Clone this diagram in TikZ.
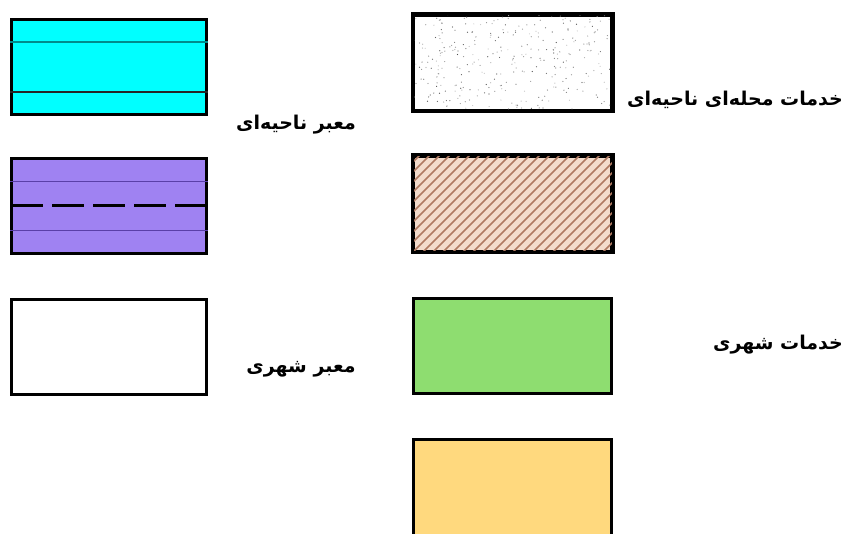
\documentclass[tikz,border=0pt]{standalone}
\usepackage{fontspec}
\TeXXeTstate=1
\newfontfamily\arabicfont[Script=Arabic]{DejaVu Sans}
\definecolor{cyanfill}{HTML}{00FFFF}
\definecolor{cyanline}{HTML}{008C8C}
\definecolor{purplefill}{HTML}{9F82F2}
\definecolor{purpleline}{HTML}{5A3FA8}
\definecolor{peach}{HTML}{F4DCCC}
\definecolor{hatchline}{HTML}{B07A62}
\definecolor{greenfill}{HTML}{8EDD70}
\definecolor{yellowfill}{HTML}{FFD97E}
\tikzset{
  legbox/.style={draw=black, line width=3pt, minimum width=195pt, minimum height=95pt, inner sep=0pt, anchor=north west},
  lbl/.style={font=\arabicfont\bfseries\fontsize{19}{22}\selectfont, inner sep=0pt}
}
\begin{document}
\begin{tikzpicture}[x=1pt,y=-1pt]
\useasboundingbox (0,0) rectangle (850,534);
\clip (0,0) rectangle (850,534);
% left column
\node[legbox, fill=cyanfill] (b1) at (10,18) {};
\draw[cyanline, line width=1.6pt] ([yshift=-24pt]b1.north west) -- ([yshift=-24pt]b1.north east);
\draw[black!85, line width=1.6pt] ([yshift=24pt]b1.south west) -- ([yshift=24pt]b1.south east);
\node[legbox, fill=purplefill] (b2) at (10,157) {};
\draw[purpleline, line width=1pt] ([yshift=-25pt]b2.north west) -- ([yshift=-25pt]b2.north east);
\draw[purpleline, line width=1pt] ([yshift=24pt]b2.south west) -- ([yshift=24pt]b2.south east);
\draw[black, line width=3pt, dash pattern=on 32pt off 9pt] ([xshift=1pt]b2.west) -- (b2.east);
\node[legbox, fill=white] (b3) at (10,298) {};
% right column
\node[legbox, minimum width=198pt, fill=white] (r1) at (412,14) {};
\begin{scope}
\clip (r1.south west) rectangle (r1.north east);
\pgfmathsetseed{7}
\foreach \i in {1,...,320}{
  \pgfmathsetmacro{\px}{412+198*rnd}
  \pgfmathsetmacro{\py}{14+95*rnd}
  \pgfmathsetmacro{\pg}{20+50*rnd}
  \fill[black!\pg] (\px,\py) circle (0.6pt);
}
\end{scope}
\draw[black, line width=3pt] (r1.south west) rectangle (r1.north east);
\node[legbox, minimum width=198pt, fill=peach] (r2) at (412,155) {};
\begin{scope}
\clip (r2.south west) rectangle (r2.north east);
\foreach \k in {-100,-90,...,200}{
  \draw[hatchline, line width=1.5pt] ([xshift=\k pt]r2.south west) -- ++(100,-100);
}
\end{scope}
\draw[black, line width=3pt] (r2.south west) rectangle (r2.north east);
\node[legbox, minimum width=198pt, fill=greenfill] (r3) at (412,297) {};
\node[legbox, minimum width=198pt, minimum height=120pt, fill=yellowfill] (r4) at (412,438) {};
% labels
\node[lbl] (t1) at (296,125) {\beginR معبر ناحیه‌ای\endR};
\node[lbl] (t2) at (735,100) {\beginR خدمات محله‌ای ناحیه‌ای\endR};
\node[lbl] (t3) at (301,369) {\beginR معبر شهری\endR};
\node[lbl] (t4) at (778,345) {\beginR خدمات شهری\endR};
\end{tikzpicture}
\end{document}
